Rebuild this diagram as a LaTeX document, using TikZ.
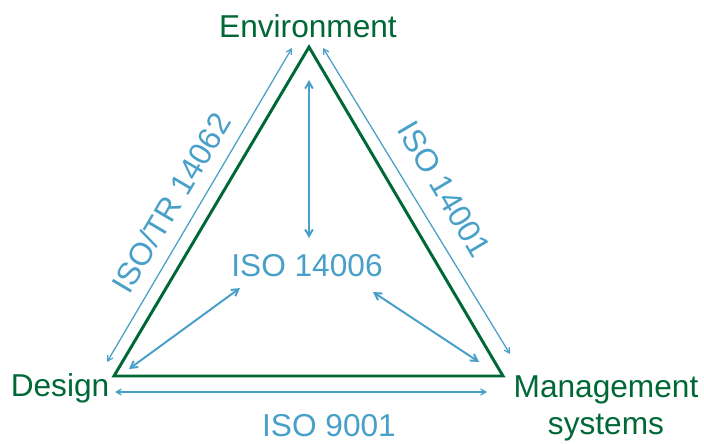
\documentclass[tikz,border=0pt]{standalone}
\usepackage{fontspec}
\setmainfont{Liberation Sans}
\usepackage{xcolor}
\definecolor{isogreen}{RGB}{0,104,55}
\definecolor{isoblue}{RGB}{72,160,200}
\usetikzlibrary{arrows.meta}
\tikzset{>={Straight Barb[angle'=60,scale=1.1]}}

\begin{document}
\begin{tikzpicture}[x=0.025cm,y=-0.025cm,
    corner/.style={text=isogreen,font=\fontsize{22.5}{26.2}\selectfont,inner sep=0pt},
    std/.style={text=isoblue,font=\fontsize{22.5}{26.2}\selectfont,inner sep=0pt},
    link/.style={isoblue,line width=0.9pt,<->},
    pull/.style={isoblue,line width=1.4pt,<->}]
  \useasboundingbox (0,0) rectangle (704,443);
  % triangle
  \coordinate (top) at (309,47);
  \coordinate (bl) at (114,376);
  \coordinate (br) at (503,376);
  \draw[isogreen,line width=2.1pt,line join=miter] (top) -- (bl) -- (br) -- cycle;

  \node[corner,anchor=base] (env) at (308,37) {Environment};
  \node[corner,anchor=base] (design) at (60,396) {Design};
  \node[corner,anchor=base,align=center] (mgmt) at (606,434) {Management\\systems};

  \node[std,anchor=base] (iso14006) at (307,276) {ISO 14006};
  \node[std,anchor=base] (iso9001) at (329,436) {ISO 9001};
  \node[std,rotate=59.3] (iso14062) at (171,203) {ISO/TR 14062};
  \node[std,rotate=-59.3] (iso14001) at (444,189) {ISO 14001};

  % arrow ends
  \coordinate (l-top) at (292,48);
  \coordinate (l-bot) at (107,362);
  \coordinate (r-top) at (323,48);
  \coordinate (r-bot) at (510,354);
  \coordinate (b-left) at (115,392);
  \coordinate (b-right) at (487,392);
  \coordinate (v-top) at (309,80);
  \coordinate (v-bot) at (309,238);
  \coordinate (d-left) at (129,369);
  \coordinate (d-mid) at (240,288);
  \coordinate (e-mid) at (373,292);
  \coordinate (e-right) at (479,362);

  \draw[link] (l-bot) -- (l-top);
  \draw[link] (r-top) -- (r-bot);
  \draw[link] (b-left) -- (b-right);
  \draw[pull] (v-top) -- (v-bot);
  \draw[pull] (d-left) -- (d-mid);
  \draw[pull] (e-mid) -- (e-right);
\end{tikzpicture}
\end{document}
